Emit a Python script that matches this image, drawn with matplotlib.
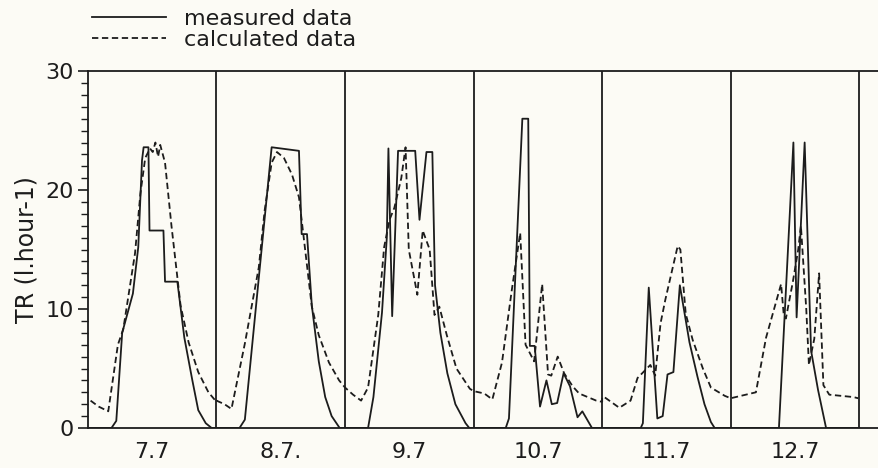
import matplotlib
matplotlib.use("Agg")
import matplotlib.pyplot as plt
from matplotlib.ticker import MultipleLocator
import numpy as np

# day labels (one per 24 h block)
day_labels = ["7.7", "8.7.", "9.7", "10.7", "11.7", "12.7"]

# measured transpiration, per day: hour of day / value
meas_hours = [
    [0, 4.4, 5.3, 6.4, 8.4, 9.4, 10.1, 10.4, 11.3, 11.5, 14.1, 14.4, 16.7, 18.0, 19.5, 20.6, 22.0, 23.1, 24],
    [0, 4.3, 5.3, 10.3, 15.4, 15.9, 16.9, 17.8, 19.1, 20.3, 21.5, 23.0, 24],
    [0, 4.3, 5.3, 6.9, 7.8, 8.1, 8.8, 9.9, 13.1, 13.9, 15.2, 16.3, 16.8, 17.8, 19.1, 20.6, 22.5, 23.2, 24],
    [0, 6.0, 6.6, 9.1, 10.2, 10.5, 11.4, 12.4, 13.6, 14.6, 15.6, 16.8, 18.0, 19.4, 20.3, 22.1, 24],
    [0, 7.2, 7.6, 8.7, 10.3, 11.3, 12.2, 13.3, 14.5, 16.3, 17.8, 19.1, 20.3, 21.0, 24],
    [0, 9.0, 11.7, 12.3, 13.8, 15.0, 16.3, 17.8, 24],
]
meas_vals = [
    [0, 0, 0.6, 8.0, 11.3, 15.2, 22.5, 23.6, 23.6, 16.6, 16.6, 12.3, 12.3, 7.6, 4.0, 1.5, 0.4, 0, 0],
    [0, 0, 0.7, 23.6, 23.3, 16.3, 16.3, 10.3, 5.6, 2.6, 1.0, 0, 0],
    [0, 0, 2.6, 9.7, 16.0, 23.5, 9.4, 23.3, 23.3, 17.5, 23.2, 23.2, 12.0, 8.0, 4.6, 2.0, 0.4, 0, 0],
    [0, 0, 0.8, 26.0, 26.0, 6.9, 6.9, 1.8, 4.0, 2.0, 2.1, 4.6, 3.5, 0.9, 1.4, 0, 0],
    [0, 0, 0.4, 11.8, 0.8, 1.0, 4.5, 4.7, 12.0, 7.2, 4.3, 2.0, 0.5, 0, 0],
    [0, 0, 24.0, 9.3, 24.0, 6.5, 3.2, 0, 0],
]

# calculated transpiration, per day
calc_hours = [
    [0.5, 2.0, 3.8, 5.6, 6.6, 8.8, 9.8, 10.7, 11.6, 12.1, 12.6, 13.1, 13.5, 14.4, 15.6, 17.3, 18.8, 20.6, 22.5, 24],
    [0, 1.5, 2.8, 5.3, 7.9, 9.0, 10.3, 11.3, 12.6, 14.1, 15.4, 16.5, 17.8, 19.1, 21.0, 22.9, 24],
    [0, 1.5, 3.0, 4.3, 6.2, 7.3, 8.3, 9.2, 10.5, 11.3, 11.9, 13.5, 14.5, 15.8, 16.7, 17.6, 19.0, 20.8, 23.3, 24],
    [0, 2.0, 3.5, 5.3, 7.1, 8.7, 9.7, 11.3, 12.8, 13.9, 14.5, 15.7, 16.9, 18.5, 19.7, 22.9, 24],
    [0, 0.4, 3.2, 5.3, 6.6, 9.0, 9.9, 10.9, 11.8, 14.1, 14.6, 15.6, 16.9, 18.8, 20.3, 22.9, 24],
    [0, 4.7, 6.6, 9.4, 9.9, 10.3, 11.6, 12.6, 13.1, 14.1, 14.6, 15.6, 16.5, 17.3, 18.4, 22.9, 23.8],
]
calc_vals = [
    [2.3, 1.8, 1.4, 7.0, 8.3, 14.7, 19.7, 22.7, 23.5, 23.2, 24.0, 22.8, 23.8, 22.3, 17.0, 10.3, 7.2, 4.7, 3.0, 2.2],
    [2.3, 2.0, 1.6, 7.1, 13.5, 18.3, 22.3, 23.2, 22.7, 21.3, 19.4, 15.2, 10.2, 7.8, 5.5, 4.0, 3.4],
    [3.4, 2.8, 2.3, 3.4, 9.5, 15.2, 17.5, 18.5, 21.0, 23.6, 15.0, 11.2, 16.6, 15.0, 9.5, 10.2, 7.8, 5.0, 3.3, 3.1],
    [3.1, 2.9, 2.4, 5.5, 11.5, 16.4, 7.0, 5.6, 12.1, 4.5, 4.4, 6.0, 4.6, 3.5, 2.9, 2.3, 2.2],
    [2.6, 2.6, 1.7, 2.3, 4.2, 5.3, 4.4, 8.8, 10.8, 15.3, 15.0, 9.6, 7.4, 5.0, 3.4, 2.7, 2.5],
    [2.5, 3.0, 7.6, 12.1, 9.5, 9.2, 12.3, 15.0, 17.0, 10.0, 5.3, 7.5, 13.0, 3.6, 2.8, 2.6, 2.5],
]


def join_days(hours, vals):
    # put each day after the previous one on a continuous hour axis
    t, v = [], []
    for d, (h, y) in enumerate(zip(hours, vals)):
        t.extend(np.array(h) + 24 * d)
        v.extend(y)
    return np.array(t), np.array(v)


ink = "#1c1c1c"
paper = "#fcfbf5"

fig = plt.figure(figsize=(8.79, 4.68), dpi=100, facecolor=paper)
ax = fig.add_axes([0.100, 0.0855, 0.905, 0.7625], facecolor=paper)

t_m, v_m = join_days(meas_hours, meas_vals)
t_c, v_c = join_days(calc_hours, calc_vals)

ax.plot(t_m, v_m, color=ink, lw=1.3, label="measured data")
ax.plot(t_c, v_c, color=ink, lw=1.3, linestyle=(0, (3.5, 2)), label="calculated data")

# day separators
for d in range(1, len(day_labels) + 1):
    ax.axvline(24 * d, color=ink, lw=1.3)

ax.set_xlim(0, 148.5)
ax.set_ylim(0, 30)

ax.set_xticks([24 * d + 12 for d in range(len(day_labels))])
ax.set_xticklabels(day_labels)
ax.tick_params(axis="x", length=0, pad=10, labelsize=16, colors=ink)

ax.set_yticks([0, 10, 20, 30])
ax.yaxis.set_minor_locator(MultipleLocator(1))
ax.tick_params(axis="y", which="major", direction="out", length=7, width=1.2, labelsize=16, colors=ink, pad=3)
ax.tick_params(axis="y", which="minor", direction="out", length=5, width=1.0, colors=ink)

ax.set_ylabel("TR (l.hour-1)", fontsize=17, color=ink, labelpad=5)

for side in ["left", "bottom", "top"]:
    ax.spines[side].set_color(ink)
    ax.spines[side].set_linewidth(1.3)
ax.spines["right"].set_visible(False)

ax.legend(loc="upper left", bbox_to_anchor=(0.090, 1.01), bbox_transform=fig.transFigure,
          frameon=False, fontsize=16, handlelength=3.3, handletextpad=0.8,
          labelspacing=0.05, borderpad=0.1, labelcolor=ink)

fig.savefig("out.png", dpi=100, facecolor=paper)
